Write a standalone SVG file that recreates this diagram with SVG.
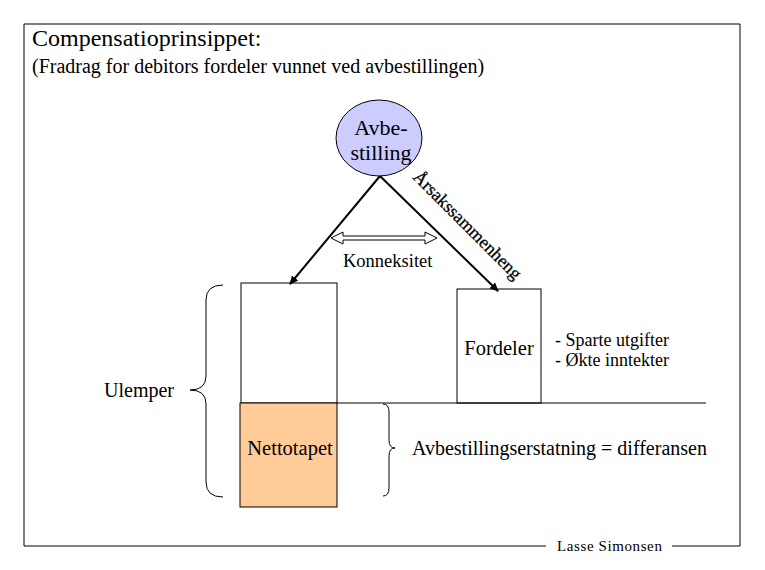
<svg xmlns="http://www.w3.org/2000/svg" width="765" height="570" viewBox="0 0 765 570" font-family="'Liberation Serif', 'Times New Roman', serif">
<style>
text{font-family:"Liberation Serif","Times New Roman",serif;fill:#000}
.ln{stroke:#000;stroke-width:1;fill:none}
.ar{stroke:#000;stroke-width:2;fill:none}
</style>
<defs>
<marker id="ah" markerWidth="10" markerHeight="10" refX="8" refY="5" orient="auto" markerUnits="userSpaceOnUse">
<path d="M0,1 L9,5 L0,9 Z" fill="#000"/>
</marker>
</defs>
<rect width="765" height="570" fill="#fff"/>
<g id="frame">
<path class="ln" d="M24,546 L24,24 L740,24 L740,546 L672,546"/>
<path class="ln" d="M24,546 L546,546"/>
<text x="557" y="551" font-size="15" letter-spacing="0.6">Lasse Simonsen</text>
</g>
<g id="title">
<text x="32" y="46" font-size="24">Compensatioprinsippet:</text>
<text x="32" y="73" font-size="20">(Fradrag for debitors fordeler vunnet ved avbestillingen)</text>
</g>
<g id="connectors">
<line class="ar" x1="380" y1="176" x2="290" y2="284" marker-end="url(#ah)"/>
<line class="ar" x1="380" y1="176" x2="498" y2="291" marker-end="url(#ah)"/>
<path class="ln" d="M331,238 L343,232 L343,236 L425,236 L425,232 L437,238 L425,244 L425,240 L343,240 L343,244 Z" fill="#fff"/>
<text x="343" y="267" font-size="18.5">Konneksitet</text>
<text transform="translate(412,178) rotate(45)" font-size="18" stroke="#000" stroke-width="0.3">Årsakssammenheng</text>
<line class="ln" x1="337" y1="403" x2="706" y2="403"/>
</g>
<g id="avbestilling">
<ellipse cx="379" cy="138" rx="43" ry="38" fill="#ccccff" stroke="#000" stroke-width="1"/>
<text x="381" y="135" font-size="22" text-anchor="middle">Avbe-</text>
<text x="381" y="160" font-size="22" text-anchor="middle">stilling</text>
</g>
<g id="ulemper-box">
<rect class="ln" x="241" y="283" width="96" height="120"/>
</g>
<g id="nettotapet">
<rect x="240" y="403" width="97" height="104" fill="#ffcc99" stroke="#000" stroke-width="1"/>
<text x="290" y="455" font-size="20.5" text-anchor="middle">Nettotapet</text>
</g>
<g id="fordeler">
<rect class="ln" x="457" y="289" width="84" height="114"/>
<text x="499" y="355" font-size="20.5" text-anchor="middle">Fordeler</text>
<text x="555" y="346" font-size="18">- Sparte utgifter</text>
<text x="555" y="366" font-size="18">- Økte inntekter</text>
</g>
<g id="ulemper">
<path class="ln" d="M223,285 Q206,285 206,300 L206,376 Q206,390 190,390 Q206,390 206,404 L206,482 Q206,497 223,497"/>
<text x="104" y="397" font-size="20">Ulemper</text>
</g>
<g id="differanse">
<path class="ln" d="M383,404 Q389,404 389,412 L389,440 Q389,448 395,448 Q389,448 389,456 L389,488 Q389,496 383,496"/>
<text x="412" y="455" font-size="20">Avbestillingserstatning = differansen</text>
</g>
</svg>
